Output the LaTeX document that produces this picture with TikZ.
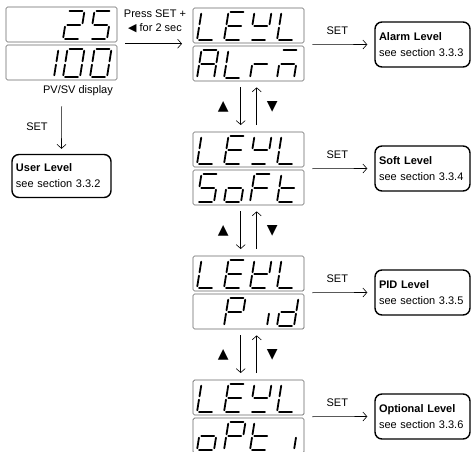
\documentclass[tikz,border=0pt]{standalone}
\usepackage{fontspec}
\setmainfont{Liberation Sans}
\newfontfamily\symfont{DejaVu Sans}
\usetikzlibrary{arrows.meta,calc}

\tikzset{
  seg/.style={line width=1.8pt, line cap=round},
  dispbox/.style={draw=black!60, line width=0.7pt, rounded corners=1.5pt},
  dispframe/.style={minimum width=111pt, minimum height=73pt, inner sep=0pt, anchor=north west},
  lvlbox/.style={draw, line width=1.4pt, rounded corners=7pt, text width=87pt, align=left,
    inner xsep=4pt, inner ysep=0pt, minimum height=45pt, font=\fontsize{11}{16}\selectfont},
  arr/.style={line width=0.6pt, -{Straight Barb[length=4pt,width=9pt]}},
  lbl/.style={font=\fontsize{11}{13}\selectfont, inner sep=0pt},
  tri/.style={font=\symfont\fontsize{14}{15}\selectfont, inner sep=0pt},
}

\def\SEGa{\draw[seg](0.12,1)--(0.88,1);}
\def\SEGb{\draw[seg](1,0.94)--(1,0.56);}
\def\SEGc{\draw[seg](1,0.44)--(1,0.06);}
\def\SEGd{\draw[seg](0.12,0)--(0.88,0);}
\def\SEGe{\draw[seg](0,0.44)--(0,0.06);}
\def\SEGf{\draw[seg](0,0.94)--(0,0.56);}
\def\SEGg{\draw[seg](0.12,0.5)--(0.88,0.5);}
\newcommand\dchar[3]{%
  \begin{scope}[shift={(#1,#2)}, x={(17pt,0pt)}, y={(4.5pt,28pt)}]
    \foreach \s in {#3} {\csname SEG\s\endcsname}
  \end{scope}}
\newcommand\sevrow[6]{%
  \draw[dispbox] (#1,#2) rectangle ++(111,35);
  \dchar{#1+4}{#2+32}{#3}\dchar{#1+31}{#2+32}{#4}%
  \dchar{#1+57}{#2+32}{#5}\dchar{#1+84}{#2+32}{#6}}

\begin{document}
\begin{tikzpicture}[x=1pt, y=-1pt]
\useasboundingbox (0,0) rectangle (474,452);

% PV/SV display
\node[dispframe] (pv) at (6,7) {};
\sevrow{6}{7}{}{}{a,b,g,e,d}{a,f,g,c,d}
\sevrow{6}{45}{}{b,c}{a,b,c,d,e,f}{a,b,c,d,e,f}
\node[lbl] (pvlbl) at (78,91) {PV/SV display};

% Level displays
\node[dispframe] (d1) at (193,8) {};
\sevrow{193}{8}{f,e,d}{a,f,g,e,d}{f,b,g,d}{f,e,d}
\sevrow{193}{46}{a,b,c,e,f,g}{f,e,d}{e,g}{a,c,e,g}

\node[dispframe] (d2) at (193,132) {};
\sevrow{193}{132}{f,e,d}{a,f,g,e,d}{f,b,g,d}{f,e,d}
\sevrow{193}{170}{a,f,g,c,d}{c,d,e,g}{a,f,g,e}{f,g,e,d}

\node[dispframe] (d3) at (193,256) {};
\sevrow{193}{256}{f,e,d}{a,f,g,e,d}{f,b,g,e,d}{f,e,d}
\sevrow{193}{294}{}{a,b,f,g,e}{c}{b,c,d,e,g}

\node[dispframe] (d4) at (193,380) {};
\sevrow{193}{380}{f,e,d}{a,f,g,e,d}{f,b,g,d}{f,e,d}
\sevrow{193}{418}{c,d,e,g}{a,b,f,g,e}{f,g,e,d}{c}

% Level boxes
\node[lvlbox, text width=91pt, minimum height=43pt] (user) at (61.5,176) {\textbf{User Level}\\see section 3.3.2};
\node[lvlbox] (alarm) at (422.5,44.5) {\textbf{Alarm Level}\\see section 3.3.3};
\node[lvlbox] (soft) at (422.5,168.5) {\textbf{Soft Level}\\see section 3.3.4};
\node[lvlbox] (pid) at (422.5,292.5) {\textbf{PID Level}\\see section 3.3.5};
\node[lvlbox] (opt) at (422.5,416.5) {\textbf{Optional Level}\\see section 3.3.6};

% Press SET arrow
\draw[arr] ([xshift=8pt]pv.east) -- ([xshift=-11pt]d1.west |- pv.east);
\node[lbl] (press1) at (155,14) {Press SET +};
\node[lbl] (press2) at (155,28) {{\symfont\fontsize{11}{12}\selectfont ◀} for 2 sec};

% PV -> User
\draw[arr] ([yshift=-26pt]pv.south) -- ([yshift=5pt]user.north);
\node[lbl] (setu) at (37,127) {SET};

% SET arrows
\foreach \d/\b in {d1/alarm, d2/soft, d3/pid, d4/opt} {
  \draw[arr] ([xshift=8pt]\d.east) -- ([xshift=-7pt]\b.west);
  \node[lbl] at ([xshift=-37pt,yshift=14pt]\b.west) {SET};
}

% Up/down arrows
\foreach \a/\b in {d1/d2, d2/d3, d3/d4} {
  \draw[arr] ([xshift=-8pt,yshift=-6pt]\a.south) -- ([xshift=-8pt,yshift=7pt]\b.north);
  \draw[arr] ([xshift=8pt,yshift=7pt]\b.north) -- ([xshift=8pt,yshift=-6pt]\a.south);
  \node[tri] at ($(\a.south)!0.5!(\b.north)+(-25.5,0)$) {▲};
  \node[tri] at ($(\a.south)!0.5!(\b.north)+(23.5,0)$) {▼};
}
\end{tikzpicture}
\end{document}
